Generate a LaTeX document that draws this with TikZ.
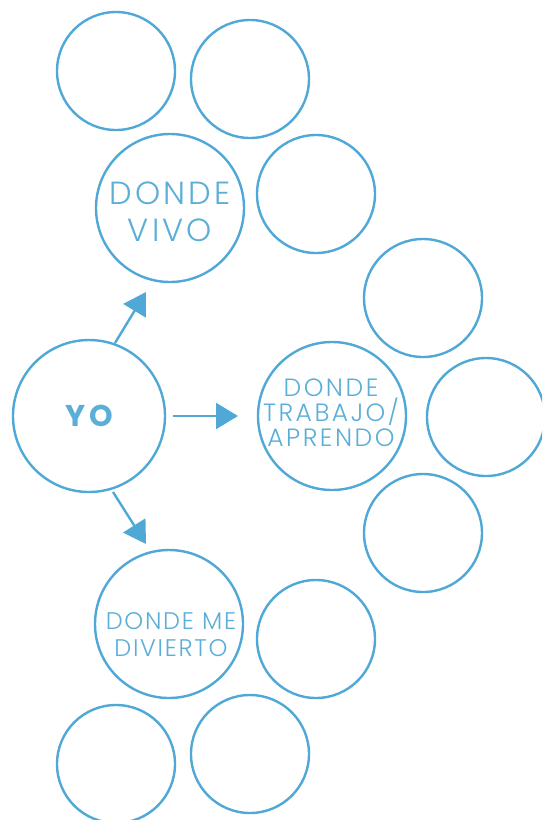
\documentclass[tikz,border=0pt]{standalone}
\usepackage{fontspec}
\setmainfont{Poppins}[LetterSpace=12]
\newfontfamily\lightfont{Poppins Light}[LetterSpace=10]
\newfontfamily\lightfontb{Poppins Light}[LetterSpace=7]
\usetikzlibrary{arrows.meta}
\definecolor{cblue}{HTML}{4FA8D6}
\definecolor{tblue}{HTML}{5AAED8}
\tikzset{
  x=1pt,y=-1pt,
  bub/.style={circle,draw=cblue,line width=2.4pt,minimum size=#1,inner sep=0pt,fill=white},
  bub/.default=118pt,
  lab/.style={text=tblue,align=center},
  arr/.style={draw=cblue,line width=2.4pt,-{Triangle[length=22pt,width=26pt]}}
}
\begin{document}
\begin{tikzpicture}
\useasboundingbox (0,0) rectangle (542,820);
\clip (0,0) rectangle (542,820);
% small circles
\node[bub] (c1) at (116,71) {};
\node[bub] (c2) at (250,79) {};
\node[bub] (c3) at (316,194) {};
\node[bub] (c4) at (423,298) {};
\node[bub] (c5) at (486,417) {};
\node[bub] (c6) at (423,533) {};
\node[bub] (c7) at (316,639) {};
\node[bub] (c8) at (116,764) {};
\node[bub] (c9) at (250,754) {};
% main circles
\node[bub=148pt] (vivo) at (170,208) {};
\node[lab,font=\lightfont\fontsize{32}{37}\selectfont] (vivot) at (170,212) {DONDE\\VIVO};
\node[bub=148pt] (trab) at (332,416) {};
\node[lab,font=\lightfont\fontsize{25}{25}\selectfont] (trabt) at (331,413) {DONDE\\TRABAJO/\\APRENDO};
\node[bub=148pt] (div) at (169,624) {};
\node[lab,font=\lightfontb\fontsize{24}{27}\selectfont] (divt) at (171,635) {DONDE ME\\DIVIERTO};
\node[bub=152pt,lab,font=\bfseries\fontsize{30}{36}\selectfont] (yo) at (89,416) {YO};
% arrows
\coordinate (a1s) at (115,343);
\coordinate (a1e) at (146,292);
\coordinate (a2s) at (173,416);
\coordinate (a2e) at (238,416);
\coordinate (a3s) at (113,492);
\coordinate (a3e) at (146,544);
\draw[arr] (a1s) -- (a1e);
\draw[arr] (a2s) -- (a2e);
\draw[arr] (a3s) -- (a3e);
\end{tikzpicture}
\end{document}
